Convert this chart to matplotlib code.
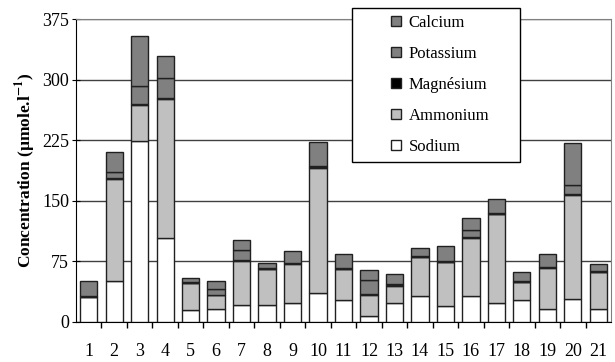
import matplotlib
matplotlib.use('Agg')
import matplotlib.pyplot as plt
import matplotlib.patches as patches
import numpy as np

plt.rcParams['font.family'] = ['Liberation Serif', 'DejaVu Serif']
plt.rcParams['mathtext.fontset'] = 'stix'

# Data (stacked amounts in umole/l)
samples = [str(i) for i in range(1, 22)]
sodium = [31, 51, 224, 104, 15, 16.5, 20.5, 20.5, 23, 35.5, 27,
          7.5, 23, 32, 20, 32, 23, 27, 16.5, 29, 16.5]
ammonium = [0.5, 126, 45, 172, 33, 16.5, 55.5, 44.5, 49, 155.5, 38.5,
            26.5, 22, 48, 54, 72, 110.5, 22.5, 50.5, 128, 45.5]
magnesium = [0.5, 1.5, 1, 1, 0.5, 1, 1, 0.5, 0.5, 0.5, 0.5,
             1, 0.5, 1, 0.5, 1, 0.5, 0.5, 0.5, 1, 0.5]
potassium = [0.5, 7.5, 22.5, 25.5, 0.5, 7, 12, 1, 1, 1, 1,
             16.5, 1, 1, 1, 8.5, 1, 1, 1, 11.5, 1]
calcium = [18.5, 24.5, 62, 27, 6, 9.5, 13, 6, 14, 30.5, 17,
           13, 13.5, 9.5, 18.5, 15, 17, 10.5, 15.5, 52, 8.5]

series = [('Sodium', sodium, 'white'),
          ('Ammonium', ammonium, '#c0c0c0'),
          ('Magnésium', magnesium, 'black'),
          ('Potassium', potassium, '#808080'),
          ('Calcium', calcium, '#808080')]

fig = plt.figure(figsize=(6.15, 3.62), dpi=100)
ax = fig.add_axes([76 / 615, 40 / 362, 535 / 615, 303 / 362])

x = np.arange(1, len(samples) + 1)
bottom = np.zeros(len(samples))
handles = []
for name, vals, col in series:
    vals = np.array(vals, dtype=float)
    b = ax.bar(x, vals, bottom=bottom, width=0.68, color=col,
               edgecolor='#202020', linewidth=1.0, label=name, zorder=3)
    handles.append(b)
    bottom += vals

# Axes settings
ax.set_xlim(0.5, 21.5)
ax.set_ylim(0, 375)
ax.set_yticks([0, 75, 150, 225, 300, 375])
ax.yaxis.grid(True, color='#404040', linewidth=1.0, zorder=0)
ax.set_axisbelow(True)
ax.set_xticks(x)
ax.set_xticklabels(samples)
ax.set_xticks(np.arange(1.5, 21.5, 1), minor=True)
ax.tick_params(axis='x', which='major', length=0, pad=15, labelsize=13)
ax.tick_params(axis='x', which='minor', length=4, direction='out',
               width=1, color='black')
ax.tick_params(axis='y', length=6, direction='inout', pad=2, labelsize=13)
ax.spines['top'].set_color('#808080')
ax.spines['right'].set_color('#808080')
ax.spines['left'].set_color('black')
ax.spines['bottom'].set_color('black')
ax.set_ylabel('Concentration (µmole.l$^{\\mathbf{-1}}$)', fontsize=12.5,
              fontweight='bold', labelpad=3)

# Legend box
box = patches.Rectangle((352 / 615, 1 - 162 / 362), 168 / 615, 154 / 362,
                        transform=fig.transFigure, facecolor='white',
                        edgecolor='black', linewidth=1.0)
fig.patches.append(box)
fig.legend(handles[::-1], [s[0] for s in series[::-1]],
           loc='center', bbox_to_anchor=(440 / 615, 1 - 85 / 362),
           frameon=False, fontsize=12, labelspacing=0.9,
           handlelength=0.6, handleheight=0.6, handletextpad=0.5)

plt.savefig('out.png', dpi=100)
